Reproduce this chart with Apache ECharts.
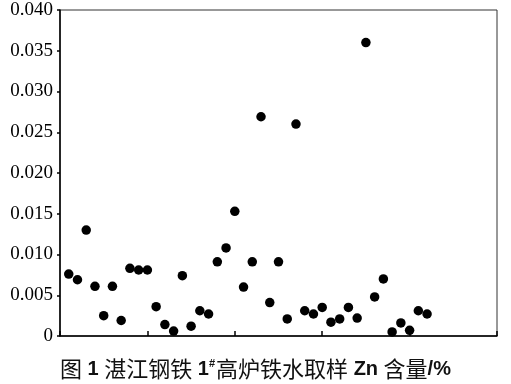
<!DOCTYPE html>
<html><head><meta charset="utf-8">
<script src="https://cdn.jsdelivr.net/npm/echarts@6/dist/echarts.min.js"></script>
<style>html,body{margin:0;padding:0;background:#fff}#c{width:511px;height:384px}</style>
</head><body><div id="c"></div>
<script>
const sampleIndex = [1,2,3,4,5,6,7,8,9,10,11,12,13,14,15,16,17,18,19,20,21,22,23,24,25,26,27,28,29,30,31,32,33,34,35,36,37,38,39,40,41,42];
const znContent = [0.0076,0.0069,0.0130,0.0061,0.0025,0.0061,0.0019,0.0083,0.0081,0.0081,0.0036,0.0014,0.0006,0.0074,0.0012,0.0031,0.0027,0.0091,0.0108,0.0153,0.0060,0.0091,0.0269,0.0041,0.0091,0.0021,0.0260,0.0031,0.0027,0.0035,0.0017,0.0021,0.0035,0.0022,0.0360,0.0048,0.0070,0.0005,0.0016,0.0007,0.0031,0.0027];
const yTickLabels = ['0','0.005','0.010','0.015','0.020','0.025','0.030','0.035','0.040'];
const caption = '{c|图}{l| 1 }{c|湛江钢铁}{l| 1}{sup|#}{c|高炉铁水取样}{l| Zn }{c|含量}{l|/%}';

const chart = echarts.init(document.getElementById('c'), null, {renderer:'canvas'});
chart.setOption({
  animation:false,
  grid:{left:60,top:10,right:14,bottom:48,show:true,borderColor:'#333',borderWidth:1},
  title:{
    text:caption, left:'center', top:353,
    textStyle:{fontFamily:'Liberation Sans',fontSize:20,fontWeight:'bold',color:'#111',
      rich:{
        c:{fontFamily:'Noto Sans CJK SC',fontSize:22,fontWeight:'normal',color:'#111'},
        l:{fontFamily:'Liberation Sans',fontSize:20,fontWeight:'bold',color:'#111'},
        sup:{fontFamily:'Liberation Sans',fontSize:11,fontWeight:'bold',verticalAlign:'top',padding:[0,1,10,0],color:'#111'}
      }}
  },
  xAxis:{type:'value',min:0,max:50,interval:10,
    axisLine:{show:true,onZero:false,lineStyle:{color:'#000',width:1.5}},
    axisTick:{show:true,inside:true,length:5,lineStyle:{color:'#000',width:1.5}},
    axisLabel:{show:false},splitLine:{show:false}},
  yAxis:{type:'value',min:0,max:0.04,interval:0.005,
    axisLine:{show:true,lineStyle:{color:'#000',width:1.5}},
    axisTick:{show:true,length:3,lineStyle:{color:'#000',width:1.5}},
    axisLabel:{margin:7,fontFamily:'Liberation Serif',fontSize:19,color:'#000',
      formatter:(v)=>yTickLabels[Math.round(v/0.005)]},
    splitLine:{show:false}},
  series:[{type:'scatter',symbol:'circle',symbolSize:9.5,itemStyle:{color:'#000',opacity:1},
    data:sampleIndex.map((x,i)=>[x,znContent[i]])}]
});
</script></body></html>
